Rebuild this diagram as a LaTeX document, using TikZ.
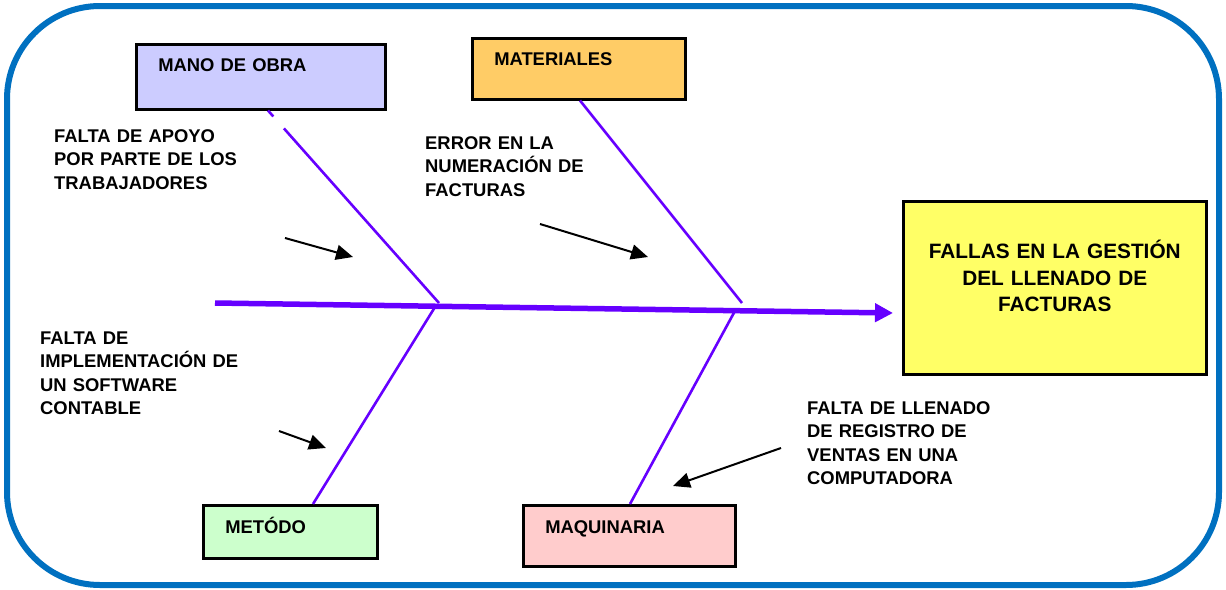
\documentclass[tikz,border=0pt]{standalone}
\usepackage{fontspec}
\setmainfont{Liberation Sans}
\usetikzlibrary{arrows.meta,calc}
\definecolor{fishpurple}{RGB}{102,0,255}
\definecolor{frameblue}{RGB}{0,112,192}
\definecolor{moblue}{RGB}{204,204,255}
\definecolor{matorange}{RGB}{255,204,102}
\definecolor{effyellow}{RGB}{255,255,102}
\definecolor{metgreen}{RGB}{204,255,204}
\definecolor{maqpink}{RGB}{255,204,204}
\begin{document}
\begin{tikzpicture}[x=1pt,y=-1pt,
 catbox/.style={draw=black, line width=2.5pt, anchor=north west, inner xsep=22pt, inner ysep=0pt, align=left, font=\fontsize{18.4}{23.3}\selectfont\bfseries},
 note/.style={anchor=base west, inner sep=0pt, align=left, text width=260pt, font=\fontsize{18.4}{23.3}\selectfont\bfseries},
 bone/.style={draw=fishpurple, line width=2.6pt},
 spine/.style={draw=fishpurple, line width=5.5pt, -{Triangle[length=18pt,width=18pt]}},
 pointer/.style={draw=black, line width=2pt, -{Triangle[length=17pt,width=15pt]}}]
\useasboundingbox (0,0) rectangle (1226,589);
\draw[frameblue, line width=6pt, rounded corners=93pt] (7,6) rectangle (1219,585);

% category boxes
\node[catbox, fill=moblue, text width=205pt, text height=27.6pt, text depth=37.4pt] (mo) at (135,43) {MANO DE OBRA};
\node[catbox, fill=matorange, text width=169pt, text height=27.6pt, text depth=33.4pt] (mat) at (471,37) {MATERIALES};
\node[catbox, fill=metgreen, text width=130pt, text height=28.6pt, text depth=24.4pt] (met) at (202,504) {METÓDO};
\node[catbox, fill=maqpink, text width=168pt, text height=28.6pt, text depth=32.4pt] (maq) at (522,504) {MAQUINARIA};

% effect box
\node[draw=black, line width=2.5pt, fill=effyellow, anchor=north west, inner sep=0pt, text width=303pt, align=center, text height=57.5pt, text depth=115.5pt, font=\fontsize{20.8}{26.5}\selectfont\bfseries] (eff) at (902,200) {FALLAS EN LA GESTIÓN\\DEL LLENADO DE\\FACTURAS};

% cause texts
\node[note] (t1) at (54,142.6) {FALTA DE APOYO\\POR PARTE DE LOS\\TRABAJADORES};
\node[note] (t2) at (425,149.6) {ERROR EN LA\\NUMERACIÓN DE\\FACTURAS};
\node[note] (t3) at (40,344.6) {FALTA DE\\IMPLEMENTACIÓN DE\\UN SOFTWARE\\CONTABLE};
\node[note] (t4) at (807,414.6) {FALTA DE LLENADO\\DE REGISTRO DE\\VENTAS EN UNA\\COMPUTADORA};

% skeleton
\coordinate (s0) at (215,303);
\coordinate (s1) at (893,313);
\coordinate (j1) at (439,303);
\coordinate (j1b) at (435,307);
\coordinate (j2) at (742,303);
\coordinate (j2b) at (736,309);
\coordinate (b1) at ($(mo.south west)+(133,0)$);
\coordinate (b2) at ($(mat.south west)+(109,0)$);
\coordinate (b3) at ($(met.north west)+(111,0)$);
\coordinate (b4) at ($(maq.north west)+(108,0)$);

\draw[bone] (b1) -- ($(b1)!0.031!(j1)$);
\draw[bone] ($(b1)!0.093!(j1)$) -- (j1);
\draw[bone] (b2) -- (j2);
\draw[bone] (j1b) -- (b3);
\draw[bone] (j2b) -- (b4);
\draw[spine] (s0) -- (s1);

% pointers
\coordinate (p1a) at (285,238); \coordinate (p1b) at (353,257);
\coordinate (p2a) at (540,224); \coordinate (p2b) at (648,257);
\coordinate (p3a) at (279,431); \coordinate (p3b) at (326,448);
\coordinate (p4a) at (781,448); \coordinate (p4b) at (673,486);
\draw[pointer] (p1a) -- (p1b);
\draw[pointer] (p2a) -- (p2b);
\draw[pointer] (p3a) -- (p3b);
\draw[pointer] (p4a) -- (p4b);
\end{tikzpicture}
\end{document}
